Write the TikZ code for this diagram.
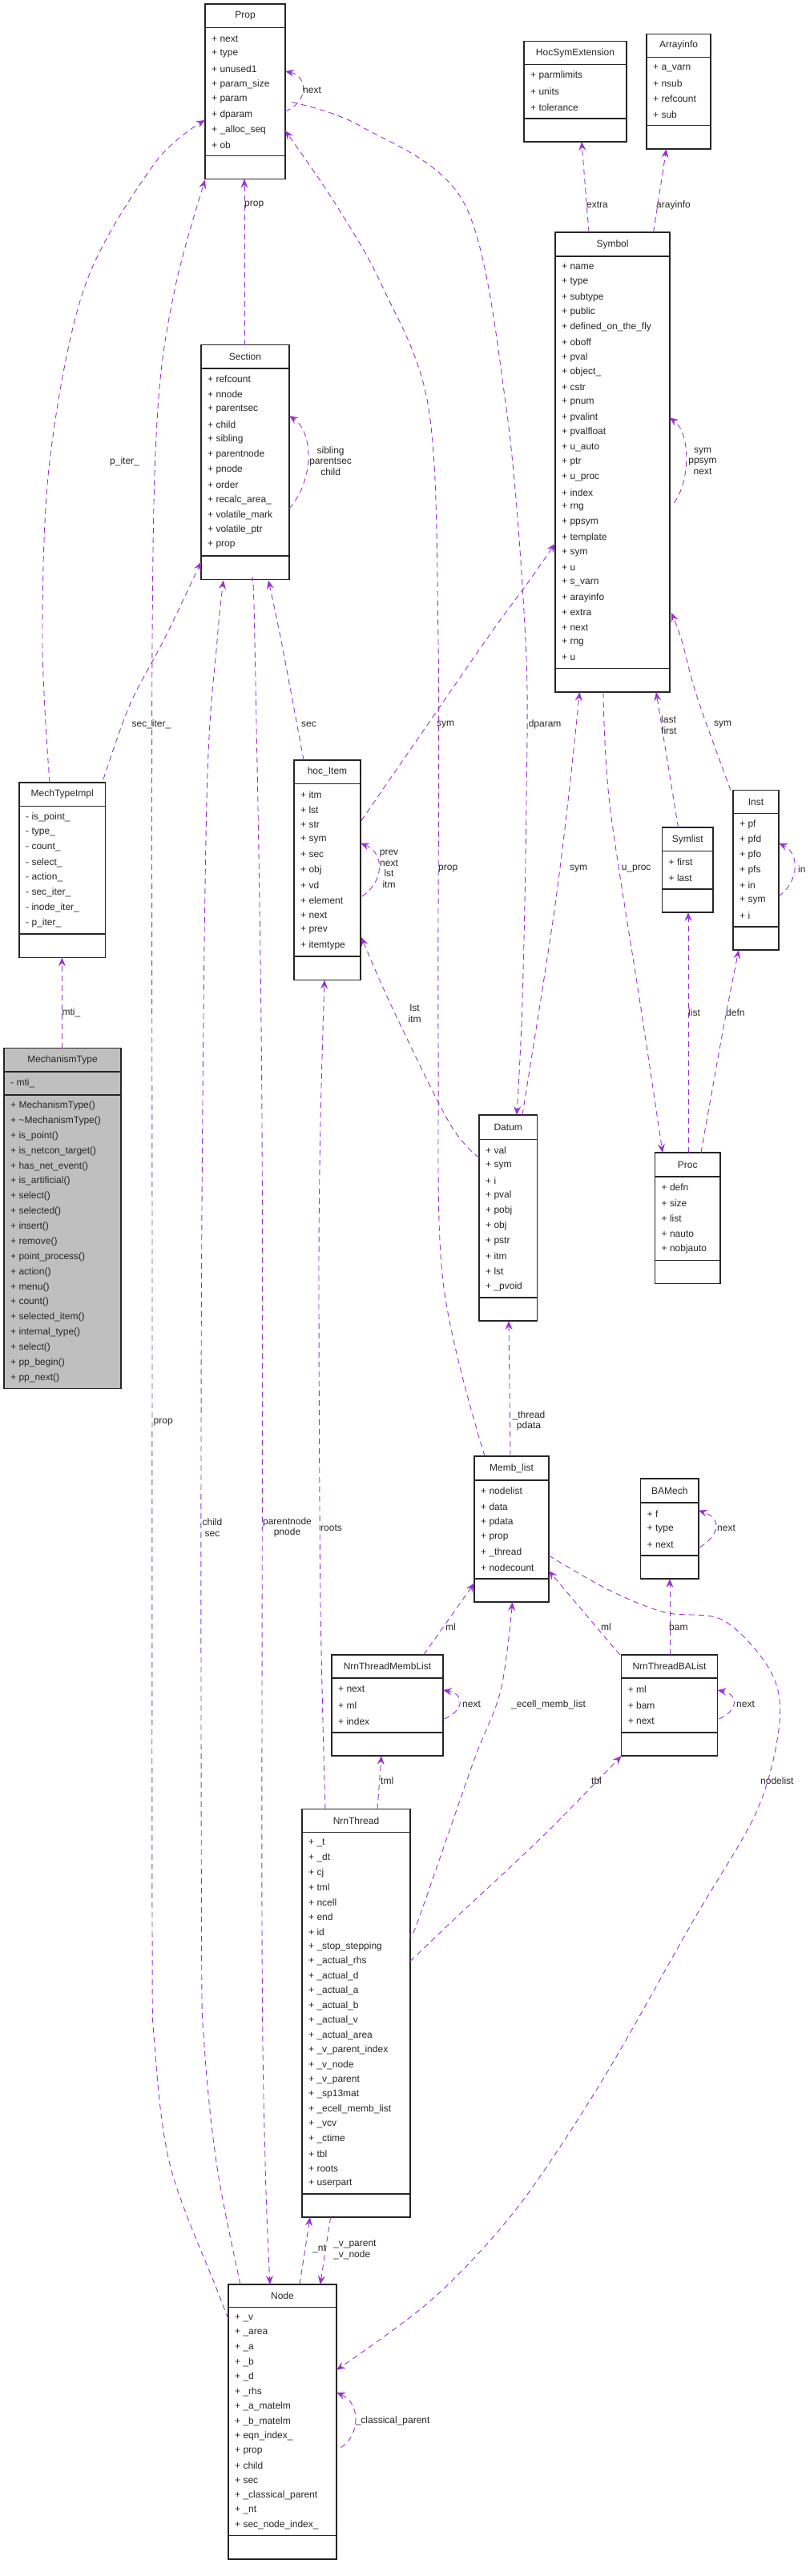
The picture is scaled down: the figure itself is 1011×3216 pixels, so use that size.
\documentclass[tikz,border=0pt]{standalone}
\usepackage{fontspec}
\setmainfont{Liberation Sans}
\usetikzlibrary{arrows.meta}
\definecolor{edgec}{HTML}{9A32CD}
\begin{document}
\catcode`\_=12
\newcommand\pfx{+}
\newcommand\items{}
\newcommand\ubox[9]{%
  \node[box, minimum width={(#3-#2)*1pt}, minimum height={(#7-#4)*1pt}, anchor=north west] (#1) at (#2,#4) {};
  \draw[boxline] (#2,#5) -- (#3,#5);
  \draw[boxline] (#2,#6) -- (#3,#6);
  \node[txt] at ({(#2+#3)/2},{(#4+#5)/2}) {#8};
  \foreach \t [count=\i] in \items {
    \node[txt, anchor=west] at ({#2+8},{#5+4+(#6-#5-8)*(\i-0.5)/#9}) {\pfx\ \t};
  }%
}
\begin{tikzpicture}[x=1pt,y=-1pt,
  box/.style={draw=black!85, line width=1.1pt, inner sep=0pt, outer sep=0pt},
  boxline/.style={draw=black!85, line width=1.1pt},
  txt/.style={font=\fontsize{12}{14}\selectfont, inner sep=0pt, text=black!85},
  lab/.style={font=\fontsize{12}{14}\selectfont, inner sep=0pt, text=black!85, align=center},
  edge/.style={draw=edgec, line width=0.9pt, dash pattern=on 7pt off 5pt,
    -{Stealth[length=11pt,width=9pt,inset=4pt]}},
  sm/.style={smooth, tension=0.55}]
\useasboundingbox (0,0) rectangle (1011,3216);

% ---- boxes
\renewcommand\items{next,type,unused1,param_size,param,dparam,_alloc_seq,ob}
\ubox{Prop}{256}{356}{5}{34.7}{194.4}{223.5}{Prop}{8}
\renewcommand\items{parmlimits,units,tolerance}
\ubox{HocSym}{654}{782}{51.5}{80.6}{148}{177}{HocSymExtension}{3}
\renewcommand\items{a_varn,nsub,refcount,sub}
\ubox{Arrayinfo}{807}{887}{42.3}{71.4}{156.6}{186}{Arrayinfo}{4}
\renewcommand\items{name,type,subtype,public,defined_on_the_fly,oboff,pval,object_,cstr,pnum,pvalint,pvalfloat,u_auto,ptr,u_proc,index,rng,ppsym,template,sym,u,s_varn,arayinfo,extra,next,rng,u}
\ubox{Symbol}{693}{836}{290}{320}{834.7}{864}{Symbol}{27}
\renewcommand\items{refcount,nnode,parentsec,child,sibling,parentnode,pnode,order,recalc_area_,volatile_mark,volatile_ptr,prop}
\ubox{Section}{251}{361}{430.6}{460}{694}{723.5}{Section}{12}
\renewcommand\pfx{-}
\renewcommand\items{is_point_,type_,count_,select_,action_,sec_iter_,inode_iter_,p_iter_}
\ubox{MechTypeImpl}{24}{131.5}{977}{1006.6}{1166}{1195.4}{MechTypeImpl}{8}
\renewcommand\pfx{+}
\renewcommand\items{itm,lst,str,sym,sec,obj,vd,element,next,prev,itemtype}
\ubox{hocItem}{367}{450}{949}{978.6}{1194}{1223.5}{hoc_Item}{11}
\renewcommand\items{pf,pfd,pfo,pfs,in,sym,i}
\ubox{Inst}{915}{972}{986.7}{1015.8}{1157}{1186}{Inst}{7}
\renewcommand\items{first,last}
\ubox{Symlist}{826.5}{890}{1033}{1062.8}{1110}{1139}{Symlist}{2}
\renewcommand\items{val,sym,i,pval,pobj,obj,pstr,itm,lst,_pvoid}
\ubox{Datum}{598}{670.5}{1392}{1422.4}{1620}{1649}{Datum}{10}
\renewcommand\items{defn,size,list,nauto,nobjauto}
\ubox{Proc}{817.5}{899}{1439}{1469}{1573.5}{1602.5}{Proc}{5}
\renewcommand\items{nodelist,data,pdata,prop,_thread,nodecount}
\ubox{Memblist}{592}{685}{1818}{1848}{1971}{2000}{Memb_list}{6}
\renewcommand\items{f,type,next}
\ubox{BAMech}{799.5}{872}{1846}{1876}{1942}{1971}{BAMech}{3}
\renewcommand\items{next,ml,index}
\ubox{NTML}{414}{553}{2066}{2095}{2163}{2192}{NrnThreadMembList}{3}
\renewcommand\items{ml,bam,next}
\ubox{NTBA}{775.6}{895.5}{2066}{2095}{2163}{2192}{NrnThreadBAList}{3}
\renewcommand\items{_t,_dt,cj,tml,ncell,end,id,_stop_stepping,_actual_rhs,_actual_d,_actual_a,_actual_b,_actual_v,_actual_area,_v_parent_index,_v_node,_v_parent,_sp13mat,_ecell_memb_list,_vcv,_ctime,tbl,roots,userpart}
\ubox{NrnThread}{377}{512}{2258.7}{2287.8}{2739}{2768}{NrnThread}{24}
\renewcommand\items{_v,_area,_a,_b,_d,_rhs,_a_matelm,_b_matelm,eqn_index_,prop,child,sec,_classical_parent,_nt,sec_node_index_}
\ubox{Node}{285}{420}{2852}{2880.6}{3165.8}{3195}{Node}{15}

% MechanismType (grey)
\node[box, fill=black!25, minimum width=146pt, minimum height=425pt, anchor=north west] (MechType) at (5,1308.7) {};
\draw[boxline] (5,1338) -- (151,1338);
\draw[boxline] (5,1367) -- (151,1367);
\node[txt] at (78,1323.3) {MechanismType};
\node[txt, anchor=west] at (13,1352.5) {- mti_};
\foreach \t [count=\i] in {MechanismType(),\textasciitilde MechanismType(),is_point(),is_netcon_target(),has_net_event(),is_artificial(),select(),selected(),insert(),remove(),point_process(),action(),menu(),count(),selected_item(),internal_type(),select(),pp_begin(),pp_next()}
  \node[txt, anchor=west] at (13,{1371+(1733.7-1367-8)*(\i-0.5)/19}) {+ \t};

% ---- connectors
% Prop self loop
\coordinate (a1) at (356,139); \coordinate (a2) at (356,89);
\draw[edge] (a1) .. controls (385,128) and (385,95) .. (a2);
\node[lab,anchor=west] at (378,113) {next};
% Section -> Prop
\coordinate (b1) at (305,430.6); \coordinate (b2) at (305,223.5);
\draw[edge] (b1) -- (b2); \node[lab,anchor=west] at (305,256) {prop};
% MechTypeImpl -> Prop
\draw[edge] plot[sm] coordinates {(62,977) (53,800) (62,576) (106,357) (193,204) (256,150)};
\node[lab,anchor=west] at (137,576.5) {p_iter_};
% MechTypeImpl -> Section
\draw[edge] plot[sm] coordinates {(129,973) (162,880) (206,796) (251,701.5)};
\node[lab,anchor=west] at (164.4,904.6) {sec_iter_};
% Node -> Prop
\draw[edge] plot[sm] coordinates {(285,2895) (271,2859) (213,2706) (193,2553) (190,2400) (190,1600) (190,800) (197,510) (219,357) (256,224.5)};
\node[lab,anchor=west] at (191.5,1775) {prop};
% Node -> Section child sec
\draw[edge] plot[sm] coordinates {(300,2852) (271,2706) (255,2553) (251.5,2400) (251.5,1600) (258,1000) (271,800) (279,724.5)};
\node[lab] at (265,1907) {child\\[-0.5pt]sec};
% Section -> Node parentnode
\draw[edge] plot[sm] coordinates {(314.6,724.5) (318,800) (327,1400) (327,2400) (331,2700) (337,2852)};
\node[lab] at (358.5,1907) {parentnode\\[-0.5pt]pnode};
% Section self loop
\draw[edge] (361,635) .. controls (392,600) and (392,540) .. (361,519);
\node[lab] at (412.6,575.5) {sibling\\[-0.5pt]parentsec\\[-0.5pt]child};
% hoc_Item -> Section
\draw[edge] plot[sm] coordinates {(379,949) (351,800) (335,724.5)};
\node[lab,anchor=west] at (376,904.6) {sec};
% NrnThread -> hoc_Item roots
\draw[edge] plot[sm] coordinates {(406,2258.7) (400,2000) (398,1600) (400,1400) (405,1223.5)};
\node[lab,anchor=west] at (400,1907.6) {roots};
% Memb_list -> Prop
\draw[edge] plot[sm] coordinates {(605,1818) (553,1600) (547,1300) (547,800) (535,510) (477,357) (419,255) (356,163)};
\node[lab,anchor=west] at (547,1084.7) {prop};
% Prop -> Datum dparam
\draw[edge] plot[sm] coordinates {(364,127.5) (451,158) (580,255) (632,510) (656,800) (657,1000) (652,1250) (645,1392)};
\node[lab,anchor=west] at (659.6,904.6) {dparam};
% hoc_Item -> Symbol
\draw[edge] plot[sm] coordinates {(451,1024.5) (606,800) (657,730) (693,678.6)};
\node[lab,anchor=west] at (545,904.6) {sym};
% Datum -> Symbol
\draw[edge] plot[sm] coordinates {(652,1392) (690,1150) (709,1000) (723.4,864)};
\node[lab,anchor=west] at (711,1084.7) {sym};
% Symbol self loop
\draw[edge] (841.4,627.6) .. controls (862,600) and (862,540) .. (835.6,521.4);
\node[lab] at (877,575.5) {sym\\[-0.5pt]ppsym\\[-0.5pt]next};
% Symbol -> HocSym
\draw[edge] (735,290) -- (726,177); \node[lab,anchor=west] at (732,256) {extra};
% Symbol -> Arrayinfo
\draw[edge] (815.6,290) -- (831.7,186); \node[lab,anchor=west] at (819,256) {arayinfo};
% Inst -> Symbol
\draw[edge] plot[sm] coordinates {(912,986.7) (870,870) (851,800) (838,765)};
\node[lab,anchor=west] at (891,904.6) {sym};
% Symlist -> Symbol
\draw[edge] (846.5,1033) -- (819,864);
\node[lab,anchor=west,align=left] at (825,905) {last\\[-0.5pt]first};
% Symbol -> Proc
\draw[edge] plot[sm] coordinates {(753,864) (761,1004) (800,1259) (827,1439)};
\node[lab,anchor=west] at (775.6,1084.7) {u_proc};
% Inst self loop
\draw[edge] (972,1119) .. controls (998,1100) and (998,1065) .. (972,1052.6);
\node[lab,anchor=west] at (996,1084.7) {in};
% Proc -> Symlist
\draw[edge] (859,1439) -- (859,1139); \node[lab,anchor=west] at (859,1264) {list};
% Proc -> Inst
\draw[edge] plot[sm] coordinates {(875,1439) (902.6,1285) (922,1186)};
\node[lab,anchor=west] at (906,1264) {defn};
% Datum -> hoc_Item
\draw[edge] plot[sm] coordinates {(598,1445.4) (561,1402) (490,1259) (451,1170)};
\node[lab] at (517.7,1265) {lst\\[-0.5pt]itm};
% hoc_Item self loop
\draw[edge] (452,1119) .. controls (480,1100) and (480,1065) .. (450,1052.6);
\node[lab] at (485.5,1084.7) {prev\\[-0.5pt]next\\[-0.5pt]lst\\[-0.5pt]itm};
% MechanismType -> MechTypeImpl
\draw[edge] (77.4,1308.7) -- (77.4,1195.4); \node[lab,anchor=west] at (77.4,1264) {mti_};
% Memb_list -> Datum
\draw[edge] (637,1818) -- (635,1649);
\node[lab] at (660,1774) {_thread\\[-0.5pt]pdata};
% BAMech self loop
\draw[edge] (873.6,1931.6) .. controls (900,1915) and (900,1895) .. (871.7,1885.7);
\node[lab,anchor=west] at (895,1907.6) {next};
% NTML -> Memb_list
\draw[edge] (528.7,2066) -- (592,1976.5); \node[lab,anchor=west] at (556,2031.6) {ml};
% NTBA -> Memb_list
\draw[edge] (773.7,2066) -- (685,1961); \node[lab,anchor=west] at (750,2031.6) {ml};
% NTBA -> BAMech
\draw[edge] (836,2066) -- (836,1971); \node[lab,anchor=west] at (835,2031.6) {bam};
% NTML self loop
\draw[edge] (554.5,2146) .. controls (580,2135) and (580,2115) .. (553,2110);
\node[lab,anchor=west] at (577,2128) {next};
% NTBA self loop
\draw[edge] (897.5,2146) .. controls (922,2135) and (922,2115) .. (895.5,2110);
\node[lab,anchor=west] at (919,2128) {next};
% NrnThread -> NTML
\draw[edge] (471,2258.7) -- (476,2192); \node[lab,anchor=west] at (475,2223.5) {tml};
% NrnThread -> Memb_list ecell
\draw[edge] plot[sm] coordinates {(512,2414) (521,2400) (590,2202) (625,2110) (639.6,2000)};
\node[lab,anchor=west] at (638,2128) {_ecell_memb_list};
% NrnThread -> NTBA
\draw[edge] plot[sm] coordinates {(512,2448.5) (567,2396) (680,2290) (775.6,2192)};
\node[lab,anchor=west] at (738,2223.5) {tbl};
% Memb_list -> Node nodelist
\draw[edge] plot[sm] coordinates {(685,1942) (760,1985) (830,2013) (903,2023) (961,2085) (973,2150) (945,2260) (864,2400) (750,2600) (645,2757) (540,2870) (420,2958.7)};
\node[lab,anchor=west] at (949,2223.5) {nodelist};
% Node <-> NrnThread
\draw[edge] (374,2852) -- (387,2768);
\node[lab,anchor=west] at (390,2808) {_nt};
\draw[edge] (412.6,2768) -- (399.7,2852);
\node[lab,anchor=west,align=left] at (416,2809) {_v_parent\\[-0.5pt]_v_node};
% Node self loop
\draw[edge] (425.5,3055.6) .. controls (450,3040) and (450,3000) .. (420,2986.7);
\node[lab,anchor=west] at (443.6,3022.4) {_classical_parent};
\end{tikzpicture}
\end{document}
